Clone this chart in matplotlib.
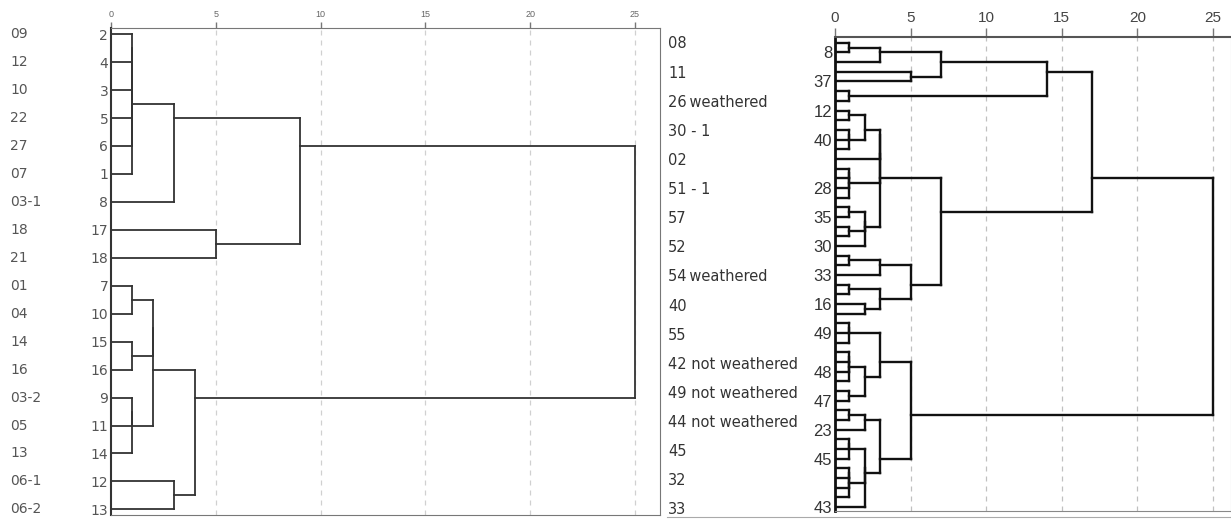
import matplotlib
matplotlib.use("Agg")
import matplotlib.pyplot as plt
from matplotlib.lines import Line2D

plt.rcParams["font.family"] = ["Liberation Sans", "DejaVu Sans"]
WIDE = ["DejaVu Sans"]

# ---- left dendrogram (18 samples) ----
LEFT_SAMPLES = ["09", "12", "10", "22", "27", "07", "03-1", "18", "21",
                "01", "04", "14", "16", "03-2", "05", "13", "06-1", "06-2"]
LEFT_LEAVES = ["2", "4", "3", "5", "6", "1", "8", "17", "18",
               "7", "10", "15", "16", "9", "11", "14", "12", "13"]
# (child a, child b, rescaled distance); ids >= n refer to earlier merges
LEFT_MERGES = [
    (0, 1, 1), (18, 2, 1), (19, 3, 1), (20, 4, 1), (21, 5, 1),
    (22, 6, 3), (7, 8, 5), (23, 24, 9),
    (9, 10, 1), (11, 12, 1), (13, 14, 1), (28, 15, 1),
    (26, 27, 2), (30, 29, 2), (16, 17, 3), (31, 32, 4),
    (25, 33, 25),
]

# ---- right dendrogram (49 samples) ----
RIGHT_N = 49
RIGHT_LABEL_ROWS = [1, 4, 7, 10, 15, 18, 21, 24, 27, 30, 34, 37, 40, 43, 48]
RIGHT_LABELS = ["8", "37", "12", "40", "28", "35", "30", "33",
                "16", "49", "48", "47", "23", "45", "43"]
RIGHT_MERGES = [
    (0, 1, 0.9), (49, 2, 3), (3, 4, 5), (50, 51, 7), (5, 6, 0.9), (52, 53, 14),
    (7, 8, 0.9), (9, 10, 0.9), (56, 11, 0.9), (55, 57, 2), (58, 12, 3),
    (13, 14, 0.9), (60, 15, 0.9), (61, 16, 0.9), (59, 62, 3),
    (17, 18, 0.9), (19, 20, 0.9), (64, 65, 2), (66, 21, 2), (63, 67, 3),
    (22, 23, 0.9), (69, 24, 3), (25, 26, 0.9), (27, 28, 2), (71, 72, 3),
    (70, 73, 5), (68, 74, 7), (54, 75, 17),
    (29, 30, 0.9), (77, 31, 0.9), (32, 33, 0.9), (79, 34, 0.9), (80, 35, 0.9),
    (36, 37, 0.9), (81, 82, 2), (78, 83, 3),
    (38, 39, 0.9), (85, 40, 2), (41, 42, 0.9), (87, 43, 0.9),
    (44, 45, 0.9), (89, 46, 0.9), (90, 47, 0.9), (88, 91, 2), (92, 48, 2),
    (86, 93, 3), (84, 94, 5), (76, 95, 25),
]
MIDDLE_NAMES = ["08", "11", "26\u2009weathered", "30 - 1", "02", "51 - 1", "57", "52",
                "54\u2009weathered", "40", "55", "42 not weathered",
                "49 not weathered", "44 not weathered", "45", "32", "33"]

TICKS = [0, 5, 10, 15, 20, 25]


def draw_dendrogram(ax, n, merges, color, lw):
    ys = list(range(n))
    xs = [0.0] * n
    members = [[i] for i in range(n)]
    kw = dict(color=color, lw=lw, solid_capstyle="projecting", zorder=3)
    for a, b, h in merges:
        for c in (a, b):
            ax.plot([xs[c], h], [ys[c], ys[c]], **kw)
        ax.plot([h, h], [ys[a], ys[b]], **kw)
        mem = members[a] + members[b]
        members.append(mem)
        ys.append(sum(mem) / len(mem))
        xs.append(h)


def style_axis(ax, grid_color, tick_len, tick_size, tick_color):
    ax.set_xlim(0, 26.19)
    ax.xaxis.tick_top()
    ax.set_xticks(TICKS)
    ax.tick_params(axis="x", length=tick_len, width=1, color="#777777",
                   labelsize=tick_size, labelcolor=tick_color, pad=2)
    for t in TICKS[1:]:
        ax.axvline(t, color=grid_color, lw=0.9, ls=(0, (4, 4)), zorder=1)


fig = plt.figure(figsize=(12.31, 5.19), dpi=100)
W, H = 1231, 519

# left panel
ax_l = fig.add_axes([111 / W, 1 - 515 / H, 549 / W, 487 / H])
draw_dendrogram(ax_l, len(LEFT_LEAVES), LEFT_MERGES, "#333333", 1.3)
style_axis(ax_l, "#d0d0d0", 4.5, 6.5, "#666666")
ax_l.set_ylim(17.2, -0.22)
ax_l.set_yticks(range(len(LEFT_LEAVES)))
ax_l.set_yticklabels(LEFT_LEAVES, family=WIDE)
ax_l.tick_params(axis="y", length=0, pad=2, labelsize=10, labelcolor="#555555")
for side in ["top", "right", "bottom"]:
    ax_l.spines[side].set_color("#777777")
ax_l.spines["left"].set_color("#333333")
ax_l.spines["left"].set_linewidth(1.5)
for i, name in enumerate(LEFT_SAMPLES):
    ax_l.text(-101 / 549, i, name, transform=ax_l.get_yaxis_transform(),
              ha="left", va="center", fontsize=10, color="#555555", family=WIDE)

# right panel
ax_r = fig.add_axes([835 / W, 1 - 511 / H, 396 / W, 474 / H])
draw_dendrogram(ax_r, RIGHT_N, RIGHT_MERGES, "#111111", 1.7)
style_axis(ax_r, "#c0c0c0", 6.5, 11, "#444444")
ax_r.set_ylim(48.4, -0.6)
ax_r.set_yticks(RIGHT_LABEL_ROWS)
ax_r.set_yticklabels(RIGHT_LABELS)
ax_r.tick_params(axis="y", length=0, pad=2, labelsize=12, labelcolor="#333333")
ax_r.spines["left"].set_color("#111111")
ax_r.spines["left"].set_linewidth(2)
ax_r.spines["top"].set_color("#555555")
ax_r.spines["top"].set_linewidth(1.5)
ax_r.spines["bottom"].set_color("#888888")
ax_r.spines["right"].set_color("#bbbbbb")

for i, name in enumerate(MIDDLE_NAMES):
    fig.text(668 / W, 1 - (44 + i * 29.12) / H, name, ha="left", va="center",
             fontsize=10.5, color="#333333", family=WIDE)

fig.add_artist(Line2D([667 / W, 1], [1 - 516.5 / H, 1 - 516.5 / H],
                      transform=fig.transFigure, color="#aaaaaa", lw=0.8))

fig.savefig("out.png", dpi=100)
